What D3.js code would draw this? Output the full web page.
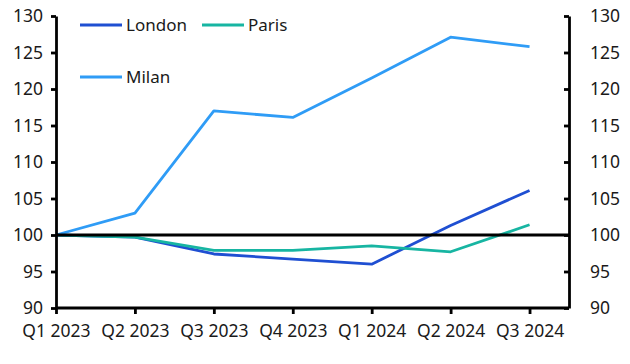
<!DOCTYPE html>
<html>
<head>
<meta charset="utf-8">
<script src="https://cdn.jsdelivr.net/npm/d3@7"></script>
<style>
  body { margin: 0; background: #fff; }
  svg text { font-family: "Noto Sans", sans-serif; fill: #1a1a1a; }
</style>
</head>
<body>
<svg id="chart" width="630" height="364"></svg>
<script>
var quarters = ["Q1 2023", "Q2 2023", "Q3 2023", "Q4 2023", "Q1 2024", "Q2 2024", "Q3 2024"];
var london = [100, 99.7, 97.4, 96.7, 96.0, 101.3, 106.1];
var paris = [100, 99.7, 97.9, 97.9, 98.5, 97.7, 101.4];
var milan = [100, 103.0, 117.0, 116.1, 121.5, 127.1, 125.8];
var yTicks = [90, 95, 100, 105, 110, 115, 120, 125, 130];

var series = [
    {name: "London", values: london, color: "#1f4fd2"},
    {name: "Paris", values: paris, color: "#17b5a2"},
    {name: "Milan", values: milan, color: "#2f9cf6"}
];

var svg = d3.select("#chart");
var plotLeft = 56, plotRight = 569, plotTop = 16, plotBottom = 308;

// point scale, axis carries on half a step past the last quarter
var step = (plotRight - plotLeft) / (quarters.length - 0.5);
var x = d3.scalePoint().domain(quarters).range([plotLeft, plotLeft + step * (quarters.length - 1)]);
var y = d3.scaleLinear().domain([90, 130]).range([plotBottom, plotTop]);

var line = d3.line()
    .x((d, i) => x(quarters[i]))
    .y(d => y(d));

// series lines
svg.selectAll("path.series")
    .data(series)
    .join("path")
    .attr("class", "series")
    .attr("fill", "none")
    .attr("stroke", d => d.color)
    .attr("stroke-width", 2.8)
    .attr("stroke-linejoin", "round")
    .attr("d", d => line(d.values));

// 100 baseline
svg.append("line")
    .attr("x1", plotLeft).attr("x2", plotRight)
    .attr("y1", y(100)).attr("y2", y(100))
    .attr("stroke", "#000").attr("stroke-width", 2.8);

// axes
var yLeft = svg.append("g")
    .attr("transform", "translate(" + plotLeft + ",0)")
    .call(d3.axisLeft(y).tickValues(yTicks).tickSize(5).tickSizeOuter(0).tickPadding(8));

var yRight = svg.append("g")
    .attr("transform", "translate(" + plotRight + ",0)")
    .call(d3.axisRight(y).tickValues(yTicks).tickSize(-5).tickSizeOuter(0).tickPadding(21));

var xAxis = svg.append("g")
    .attr("transform", "translate(0," + plotBottom + ")")
    .call(d3.axisBottom(x).tickSize(6).tickSizeOuter(0).tickPadding(11));
xAxis.select(".domain").attr("d", "M" + plotLeft + ",0H" + plotRight);

[yLeft, yRight, xAxis].forEach(g => {
    g.selectAll(".domain, .tick line").attr("stroke", "#000").attr("stroke-width", 2.8);
    g.selectAll("text").style("font-size", "17.5px").style("font-family", "Noto Sans").attr("fill", "#1a1a1a");
});

// legend
var legendPos = [
    {x: 80, y: 25},
    {x: 202, y: 25},
    {x: 80, y: 77}
];
var legend = svg.selectAll("g.legend")
    .data(series)
    .join("g")
    .attr("class", "legend")
    .attr("transform", (d, i) => "translate(" + legendPos[i].x + "," + legendPos[i].y + ")");
legend.append("line")
    .attr("x1", 0).attr("x2", 42)
    .attr("stroke", d => d.color).attr("stroke-width", 2.8);
legend.append("text")
    .attr("x", 46).attr("dy", "0.35em")
    .style("font-size", "17px")
    .text(d => d.name);
</script>
</body>
</html>
